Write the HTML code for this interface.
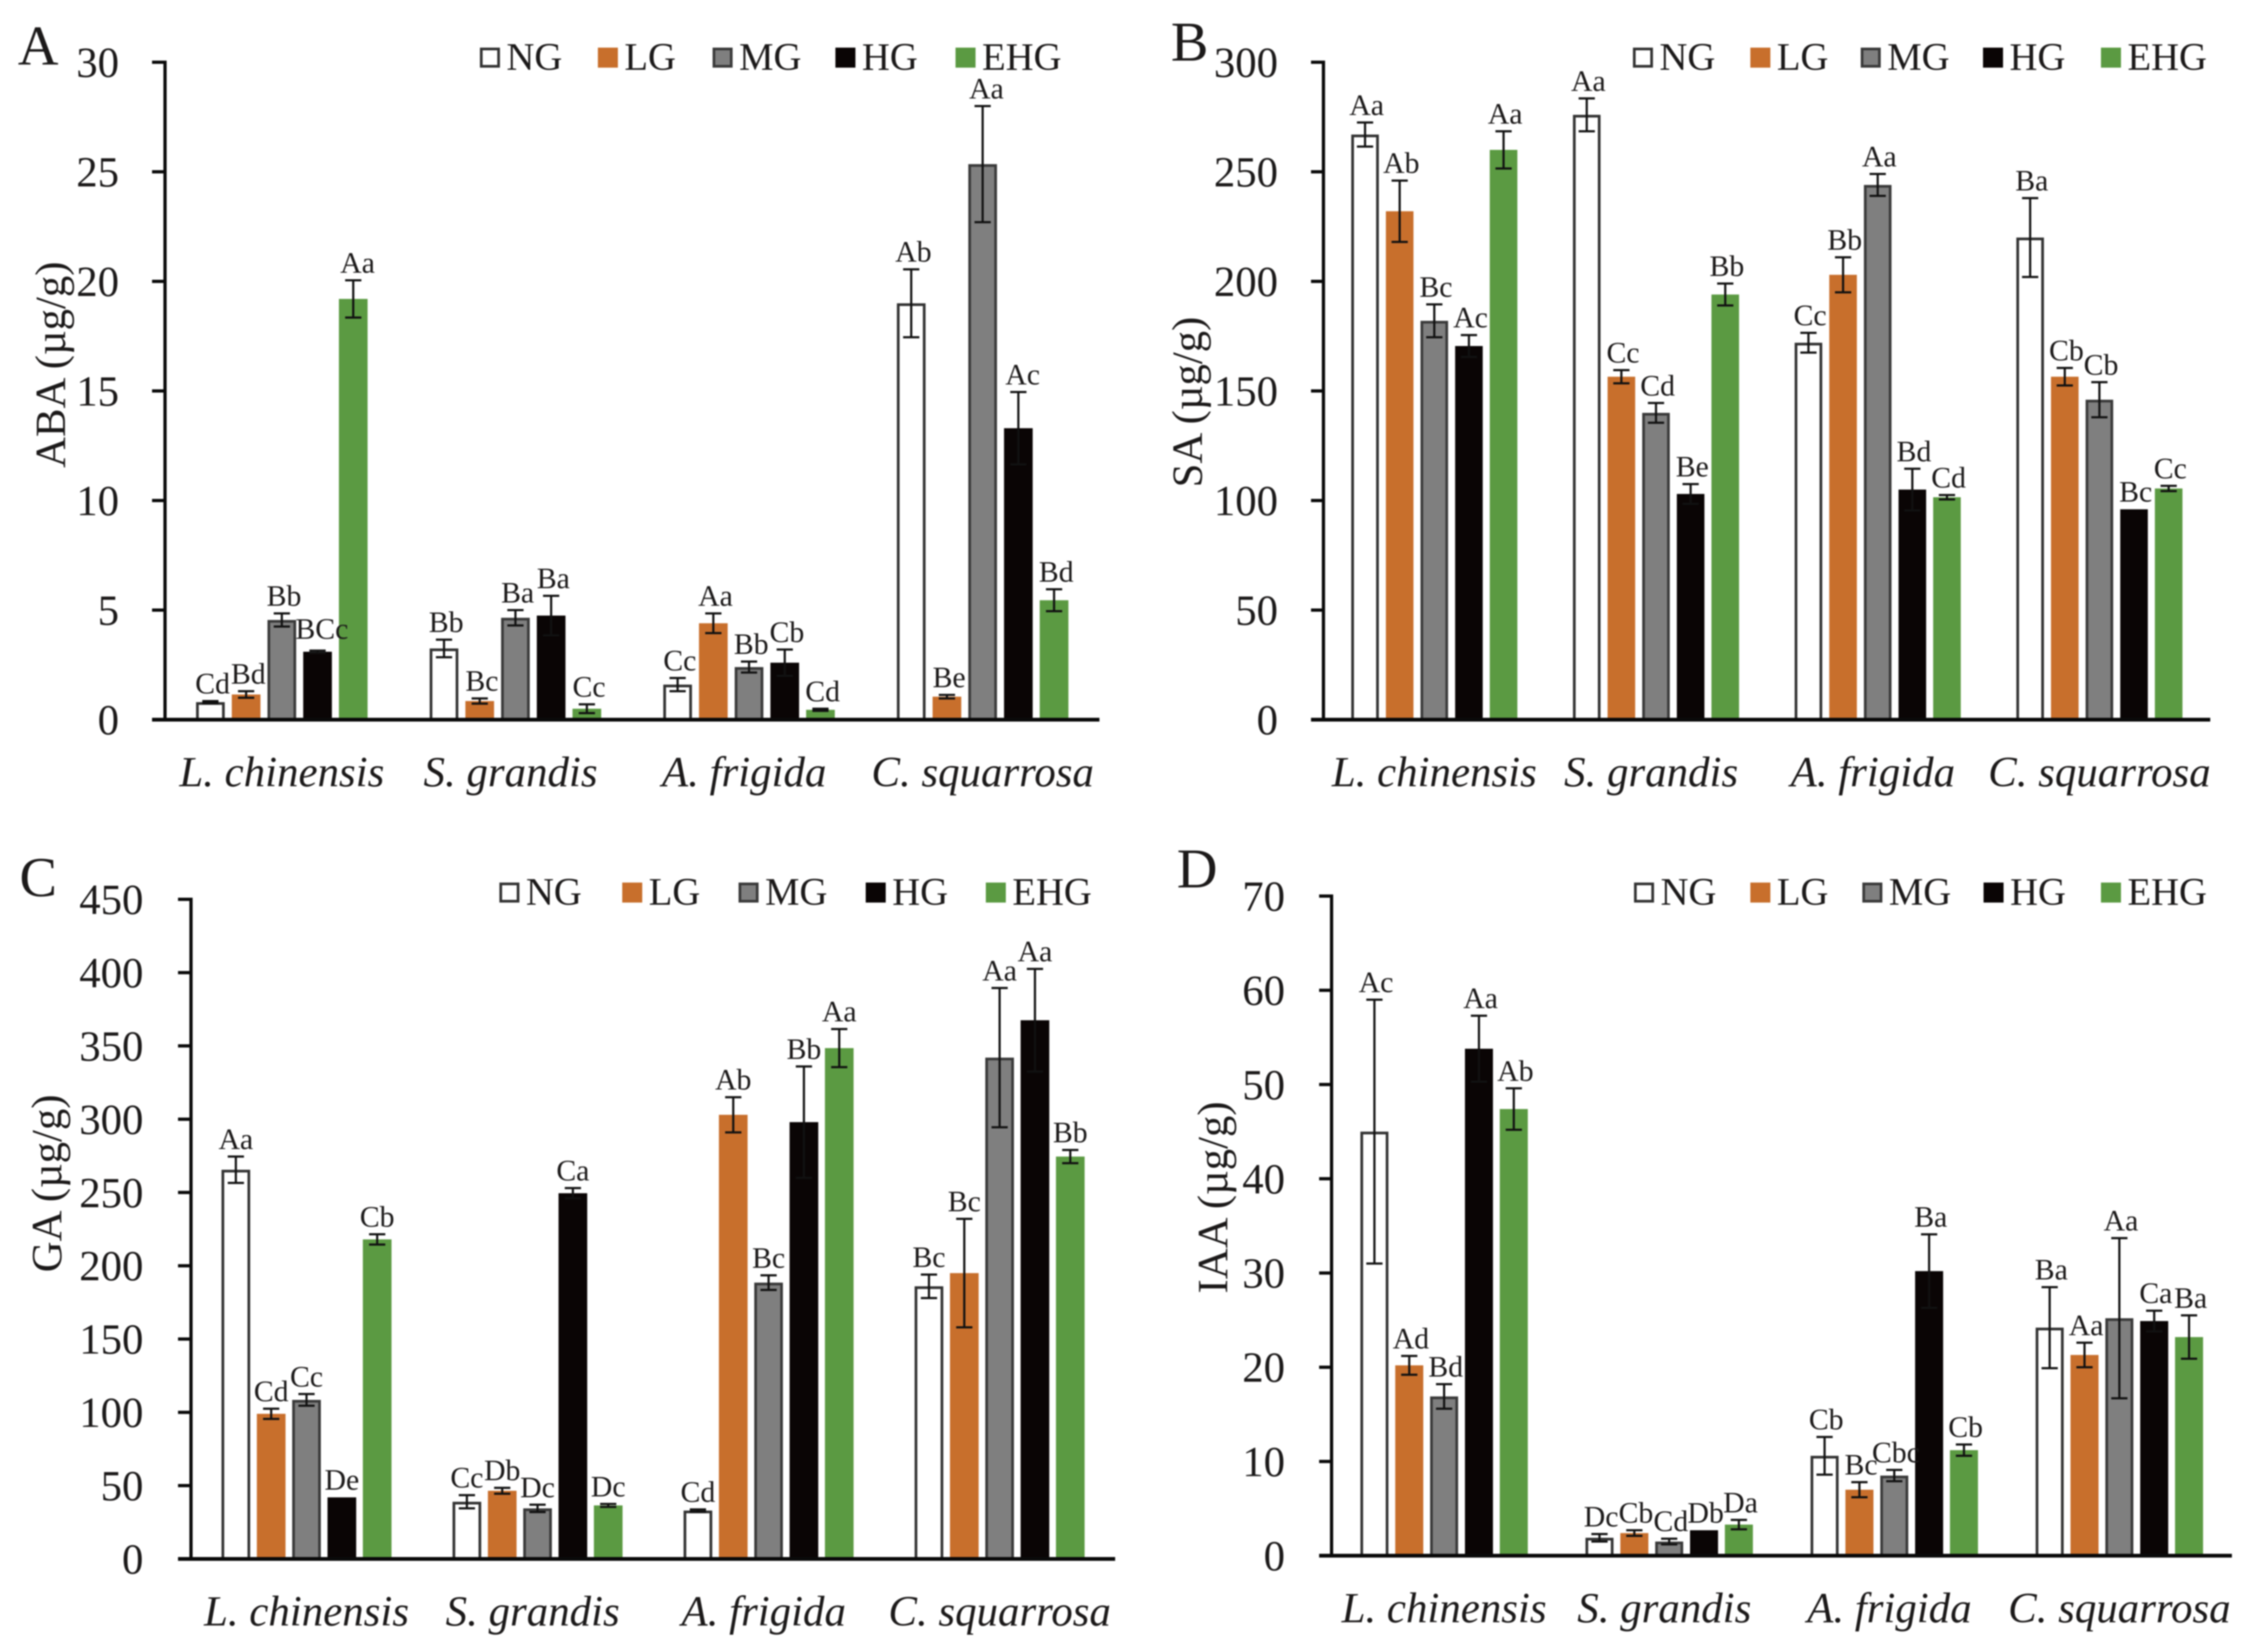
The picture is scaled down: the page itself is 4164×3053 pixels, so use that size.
<!DOCTYPE html>
<html lang="en">
<head>
<meta charset="utf-8">
<title>Phytohormone content by grazing intensity</title>
<style>
html,body{margin:0;padding:0;background:#fff;width:4164px;height:3053px;overflow:hidden}
#figure{display:block;filter:blur(1.3px)}
text{font-family:"Liberation Serif","Times New Roman",serif;fill:#1c1a1a}
</style>
</head>
<body>
<svg id="figure" xmlns="http://www.w3.org/2000/svg" width="4164" height="3053" viewBox="0 0 4164 3053"></svg>
<script>
const categories = ['L. chinensis', 'S. grandis', 'A. frigida', 'C. squarrosa'];
const seriesNames = ['NG', 'LG', 'MG', 'HG', 'EHG'];

const abaTicks = [0, 5, 10, 15, 20, 25, 30];
const abaNG = [0.8, 3.25, 1.6, 19];
const abaLG = [1.15, 0.85, 4.4, 1.05];
const abaMG = [4.55, 4.65, 2.4, 25.35];
const abaHG = [3.1, 4.75, 2.6, 13.3];
const abaEHG = [19.2, 0.5, 0.45, 5.45];
const abaNGErr = [0.05, 0.4, 0.3, 1.55];
const abaLGErr = [0.15, 0.12, 0.45, 0.08];
const abaMGErr = [0.3, 0.35, 0.25, 2.65];
const abaHGErr = [0.05, 0.9, 0.6, 1.65];
const abaEHGErr = [0.85, 0.2, 0.05, 0.5];
const abaNGLetters = ['Cd', 'Bb', 'Cc', 'Ab'];
const abaLGLetters = ['Bd', 'Bc', 'Aa', 'Be'];
const abaMGLetters = ['Bb', 'Ba', 'Bb', 'Aa'];
const abaHGLetters = ['BCc', 'Ba', 'Cb', 'Ac'];
const abaEHGLetters = ['Aa', 'Cc', 'Cd', 'Bd'];

const saTicks = [0, 50, 100, 150, 200, 250, 300];
const saNG = [267, 276, 172, 220];
const saLG = [232, 156.5, 203, 156.5];
const saMG = [182, 140, 244, 146];
const saHG = [170.5, 103, 105, 96];
const saEHG = [260, 194, 101.5, 105.5];
const saNGErr = [5.5, 7.5, 4.5, 18];
const saLGErr = [14, 3, 8, 4];
const saMGErr = [7.5, 4.5, 5, 8];
const saHGErr = [5, 4.5, 9.5, 0];
const saEHGErr = [8.5, 5, 1, 1.2];
const saNGLetters = ['Aa', 'Aa', 'Cc', 'Ba'];
const saLGLetters = ['Ab', 'Cc', 'Bb', 'Cb'];
const saMGLetters = ['Bc', 'Cd', 'Aa', 'Cb'];
const saHGLetters = ['Ac', 'Be', 'Bd', 'Bc'];
const saEHGLetters = ['Aa', 'Bb', 'Cd', 'Cc'];

const gaTicks = [0, 50, 100, 150, 200, 250, 300, 350, 400, 450];
const gaNG = [265.5, 39, 33, 186];
const gaLG = [99, 46.5, 303, 195];
const gaMG = [108.5, 34.5, 188.5, 342];
const gaHG = [42, 249.5, 298, 367.5];
const gaEHG = [218, 36.5, 348.5, 274.5];
const gaNGErr = [9, 4.5, 0.8, 8];
const gaLGErr = [3.5, 2, 12, 37];
const gaMGErr = [4, 2.5, 5, 47.5];
const gaHGErr = [0, 3.5, 38, 35];
const gaEHGErr = [3.5, 1, 13, 4.5];
const gaNGLetters = ['Aa', 'Cc', 'Cd', 'Bc'];
const gaLGLetters = ['Cd', 'Db', 'Ab', 'Bc'];
const gaMGLetters = ['Cc', 'Dc', 'Bc', 'Aa'];
const gaHGLetters = ['De', 'Ca', 'Bb', 'Aa'];
const gaEHGLetters = ['Cb', 'Dc', 'Aa', 'Bb'];

const iaaTicks = [0, 10, 20, 30, 40, 50, 60, 70];
const iaaNG = [45, 1.9, 10.6, 24.2];
const iaaLG = [20.2, 2.4, 7, 21.3];
const iaaMG = [16.9, 1.5, 8.5, 25.2];
const iaaHG = [53.8, 2.7, 30.2, 24.9];
const iaaEHG = [47.4, 3.3, 11.2, 23.2];
const iaaNGErr = [14, 0.4, 2, 4.3];
const iaaLGErr = [1, 0.3, 0.8, 1.3];
const iaaMGErr = [1.3, 0.3, 0.6, 8.5];
const iaaHGErr = [3.5, 0, 3.9, 1.1];
const iaaEHGErr = [2.2, 0.5, 0.6, 2.3];
const iaaNGLetters = ['Ac', 'Dc', 'Cb', 'Ba'];
const iaaLGLetters = ['Ad', 'Cb', 'Bc', 'Aa'];
const iaaMGLetters = ['Bd', 'Cd', 'Cbc', 'Aa'];
const iaaHGLetters = ['Aa', 'Db', 'Ba', 'Ca'];
const iaaEHGLetters = ['Ab', 'Da', 'Cb', 'Ba'];

const fills = ['#ffffff', '#c86f2c', '#7f7f7f', '#0a0505', '#5b9a42'];
const strokes = ['#333333', 'none', '#3a3a3a', 'none', 'none'];
const categoryNudge = [0, -9, -9, 0];
const svg = document.getElementById('figure');
const NS = 'http://www.w3.org/2000/svg';

function make(parent, tag, attrs, content) {
  const el = document.createElementNS(NS, tag);
  for (const k in attrs) el.setAttribute(k, attrs[k]);
  if (content !== undefined) el.textContent = content;
  parent.appendChild(el);
  return el;
}
function slug(s) { return s.toLowerCase().replace(/[^a-z0-9]+/g, '-'); }

function drawPanel(p) {
  const group = make(svg, 'g', {});
  
  

  const yScale = v => p.yBase - (v / p.ticks[p.ticks.length - 1]) * (p.yBase - p.yTop);
  const band = (p.x1 - p.x0) / categories.length;
  const xScale = (c, s) => p.x0 + band * (c + 0.5) + (s - 2) * p.pitch;

  const letter = make(group, 'text', {x: p.letterX, y: p.letterY, 'font-size': 104}, p.letter);
  
  

  const title = make(group, 'text', {
    transform: 'translate(' + p.titleX + ' ' + p.titleY + ') rotate(-90)',
    'text-anchor': 'middle', 'font-size': 79
  }, p.title);
  
  

  p.series.forEach((values, s) => {
    values.forEach((v, c) => {
      const cx = xScale(c, s);
      const top = yScale(v);
      const sw = strokes[s] === 'none' ? 0 : 5;
      const bar = make(group, 'rect', {
        x: cx - p.barW / 2 + sw / 2, y: top + sw / 2,
        width: p.barW - sw, height: Math.max(0, p.yBase - top - sw / 2),
        fill: fills[s], stroke: strokes[s], 'stroke-width': sw
      });
      
      
    });
  });

  p.series.forEach((values, s) => {
    values.forEach((v, c) => {
      const cx = xScale(c, s);
      const err = p.errors[s][c];
      const hi = yScale(v + err);
      if (err > 0) {
        const lo = yScale(v - err);
        const e = make(group, 'path', {
          d: 'M' + cx + ' ' + hi + 'V' + lo +
             'M' + (cx - 15) + ' ' + hi + 'H' + (cx + 15) +
             'M' + (cx - 15) + ' ' + lo + 'H' + (cx + 15),
          fill: 'none', stroke: '#111111', 'stroke-width': 4
        });
        
        
      }
      const nudge = (p.letterNudge && p.letterNudge[c + '-' + s]) || [0, 0];
      const t = make(group, 'text', {
        x: cx + p.letterDx + nudge[0], y: hi - 14 + nudge[1], 'text-anchor': 'middle', 'font-size': 55
      }, p.letters[s][c]);
      
      
    });
  });

  const yAxis = make(group, 'line', {x1: p.x0, x2: p.x0, y1: p.yTop - 3, y2: p.yBase + 3, stroke: '#0a0a0a', 'stroke-width': 6});
  
  
  const xAxis = make(group, 'line', {x1: p.axisStart, x2: p.x1, y1: p.yBase, y2: p.yBase, stroke: '#0a0a0a', 'stroke-width': 7});
  
  

  p.ticks.forEach(tick => {
    const y = yScale(tick);
    const mark = make(group, 'line', {x1: p.axisStart, x2: p.x0, y1: y, y2: y, stroke: '#0a0a0a', 'stroke-width': 6});
    
    
    const lab = make(group, 'text', {x: p.tickRight, y: y + 27, 'text-anchor': 'end', 'font-size': 79}, String(tick));
    
    
  });

  categories.forEach((name, c) => {
    const lab = make(group, 'text', {
      x: p.x0 + band * (c + 0.5) + categoryNudge[c], y: p.catY,
      'text-anchor': 'middle', 'font-size': 79.3, 'font-style': 'italic'
    }, name);
    
    
  });

  seriesNames.forEach((name, s) => {
    const item = make(group, 'g', {});
    
    
    const sw = strokes[s] === 'none' ? 0 : 5;
    const swatch = make(item, 'rect', {
      x: p.legendX[s] + sw / 2, y: p.legendTop + sw / 2,
      width: 37 - sw, height: 37 - sw,
      fill: fills[s], stroke: strokes[s], 'stroke-width': sw
    });
    
    
    const lab = make(item, 'text', {x: p.legendX[s] + 49, y: p.legendTop + 41, 'font-size': 71.5}, name);
    
    
  });
}

drawPanel({
  key: 'aba', letter: 'A', letterX: 33, letterY: 119, title: 'ABA (µg/g)', titleX: 120, titleY: 674,
  x0: 305, x1: 2032, axisStart: 281, yTop: 115, yBase: 1330, pitch: 66, barW: 53, tickRight: 220, catY: 1453,
  legendX: [887, 1105, 1317, 1544, 1766], legendTop: 88, ticks: abaTicks, letterDx: 4,
  series: [abaNG, abaLG, abaMG, abaHG, abaEHG],
  errors: [abaNGErr, abaLGErr, abaMGErr, abaHGErr, abaEHGErr],
  letters: [abaNGLetters, abaLGLetters, abaMGLetters, abaHGLetters, abaEHGLetters],
  letterNudge: {'0-3': [4, -8], '0-4': [4, 0], '3-2': [3, 0], '3-3': [4, 0]}
});
drawPanel({
  key: 'sa', letter: 'B', letterX: 2164, letterY: 112, title: 'SA (µg/g)', titleX: 2221, titleY: 743,
  x0: 2446, x1: 4085, axisStart: 2423, yTop: 115, yBase: 1330, pitch: 64, barW: 51, tickRight: 2362, catY: 1453,
  legendX: [3018, 3235, 3439, 3665, 3883], legendTop: 88, ticks: saTicks, letterDx: 3,
  series: [saNG, saLG, saMG, saHG, saEHG],
  errors: [saNGErr, saLGErr, saMGErr, saHGErr, saEHGErr],
  letters: [saNGLetters, saLGLetters, saMGLetters, saHGLetters, saEHGLetters]
});
drawPanel({
  key: 'ga', letter: 'C', letterX: 36, letterY: 1656, title: 'GA (µg/g)', titleX: 113, titleY: 2187,
  x0: 353, x1: 2061, axisStart: 329, yTop: 1662, yBase: 2881, pitch: 65.3, barW: 53, tickRight: 265, catY: 3004,
  legendX: [923, 1150, 1365, 1600, 1822], legendTop: 1631, ticks: gaTicks, letterDx: 0,
  series: [gaNG, gaLG, gaMG, gaHG, gaEHG],
  errors: [gaNGErr, gaLGErr, gaMGErr, gaHGErr, gaEHGErr],
  letters: [gaNGLetters, gaLGLetters, gaMGLetters, gaHGLetters, gaEHGLetters]
});
drawPanel({
  key: 'iaa', letter: 'D', letterX: 2175, letterY: 1640, title: 'IAA (µg/g)', titleX: 2268, titleY: 2213,
  x0: 2461, x1: 4125, axisStart: 2438, yTop: 1656, yBase: 2875, pitch: 64.4, barW: 51.8, tickRight: 2375, catY: 2998,
  legendX: [3020, 3235, 3442, 3666, 3883], legendTop: 1631, ticks: iaaTicks, letterDx: 3,
  series: [iaaNG, iaaLG, iaaMG, iaaHG, iaaEHG],
  errors: [iaaNGErr, iaaLGErr, iaaMGErr, iaaHGErr, iaaEHGErr],
  letters: [iaaNGLetters, iaaLGLetters, iaaMGLetters, iaaHGLetters, iaaEHGLetters]
});
</script>
</body>
</html>
